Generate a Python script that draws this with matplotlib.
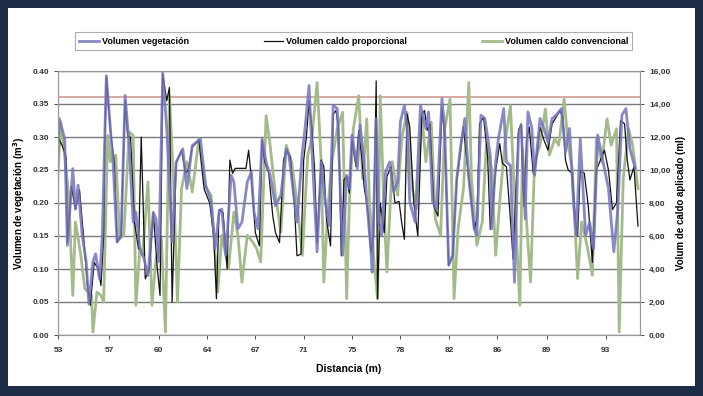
import matplotlib
matplotlib.use('Agg')
import matplotlib.pyplot as plt
from matplotlib.patches import Rectangle

plt.rcParams['font.family'] = ['Liberation Sans', 'DejaVu Sans']
plt.rcParams['font.weight'] = 'bold'

# Volumen vegetacion (m3), left axis
veg_d = [52.75, 53.0, 53.4, 53.6, 54.0, 54.2, 54.4, 54.7, 55.0, 55.2, 55.5, 55.7, 56.0, 56.2,
         56.5, 56.8, 57.0, 57.3, 57.6, 57.9, 58.2, 58.5, 58.7, 59.0, 59.3, 59.6, 60.0, 60.2,
         60.4, 60.7, 61.0, 61.4, 61.7, 62.2, 62.5, 62.9, 63.5, 63.9, 64.3, 64.6, 64.9, 65.1,
         65.4, 65.8, 66.0, 66.3, 66.6, 67.0, 67.3, 67.5, 67.8, 68.1, 68.4, 68.7, 69.1, 69.5,
         69.9, 70.1, 70.4, 70.7, 71.1, 71.3, 71.6, 71.8, 72.2, 72.5, 72.8, 73.1, 73.4, 73.7,
         74.1, 74.4, 74.6, 74.8, 75.2, 75.4, 75.7, 75.9, 76.2, 76.3, 76.6, 76.8, 77.0, 77.3,
         77.6, 77.9, 78.2, 78.4, 78.7, 78.9, 79.1, 79.5, 79.9, 80.3, 80.5, 80.8, 81.1, 81.5,
         81.7, 82.0, 82.3, 82.6, 82.9, 83.2, 83.5, 83.9, 84.1, 84.4, 84.7, 85.1, 85.2, 85.5,
         85.7, 86.1, 86.3, 86.6, 86.9, 87.2, 87.4, 87.7, 87.9, 88.2, 88.4, 88.8, 89.1, 89.4,
         89.7, 90.0, 90.4, 90.7, 91.0, 91.3, 91.5, 91.8, 92.2, 92.5, 92.8, 93.1, 93.5, 93.9,
         94.3, 94.6, 94.9, 95.2, 95.5, 95.9]
veg_v = [0.212, 0.328, 0.297, 0.136, 0.252, 0.191, 0.227, 0.151, 0.111, 0.047, 0.111, 0.123, 0.085, 0.151,
         0.393, 0.313, 0.262, 0.141, 0.151, 0.363, 0.287, 0.171, 0.186, 0.131, 0.116, 0.090, 0.186, 0.176,
         0.111, 0.398, 0.313, 0.141, 0.262, 0.282, 0.222, 0.287, 0.297, 0.227, 0.202, 0.131, 0.186, 0.191,
         0.121, 0.242, 0.232, 0.161, 0.171, 0.232, 0.247, 0.186, 0.161, 0.297, 0.262, 0.242, 0.196, 0.212,
         0.282, 0.272, 0.222, 0.171, 0.277, 0.313, 0.378, 0.287, 0.126, 0.262, 0.202, 0.166, 0.348, 0.343,
         0.121, 0.242, 0.222, 0.303, 0.252, 0.318, 0.262, 0.202, 0.131, 0.095, 0.328, 0.171, 0.151, 0.247,
         0.262, 0.217, 0.232, 0.323, 0.348, 0.313, 0.202, 0.171, 0.348, 0.313, 0.338, 0.202, 0.191, 0.358,
         0.313, 0.106, 0.121, 0.237, 0.287, 0.328, 0.237, 0.161, 0.151, 0.333, 0.328, 0.272, 0.161, 0.262,
         0.297, 0.343, 0.262, 0.257, 0.080, 0.303, 0.318, 0.176, 0.338, 0.313, 0.242, 0.328, 0.313, 0.292,
         0.328, 0.333, 0.343, 0.277, 0.313, 0.202, 0.151, 0.297, 0.151, 0.171, 0.131, 0.303, 0.262, 0.222,
         0.126, 0.191, 0.333, 0.343, 0.282, 0.252]

# Volumen caldo proporcional (ml), right axis
prop_d = [52.9, 53.2, 53.5, 53.6, 53.9, 54.2, 54.5, 54.8, 55.1, 55.3, 55.6, 55.9, 56.1, 56.3,
          56.4, 56.5, 56.8, 57.1, 57.3, 57.6, 57.9, 58.1, 58.3, 58.6, 58.9, 59.1, 59.4, 59.7,
          60.0, 60.3, 60.5, 60.7, 61.0, 61.2, 61.4, 61.7, 62.1, 62.4, 62.6, 62.9, 63.4, 63.8,
          64.2, 64.5, 64.7, 64.9, 65.2, 65.5, 65.7, 65.9, 66.1, 66.9, 67.1, 67.3, 67.6, 67.9,
          68.1, 68.3, 68.6, 68.9, 69.1, 69.4, 69.7, 69.9, 70.2, 70.5, 70.7, 71.0, 71.2, 71.4,
          71.6, 71.8, 72.0, 72.2, 72.5, 72.7, 72.9, 73.2, 73.4, 73.6, 73.8, 74.0, 74.2, 74.4,
          74.6, 74.8, 75.1, 75.3, 75.5, 75.7, 76.0, 76.2, 76.4, 76.6, 76.7, 76.9, 77.2, 77.4,
          77.7, 78.0, 78.3, 78.5, 78.7, 78.9, 79.1, 79.4, 79.7, 80.0, 80.2, 80.4, 80.6, 80.9,
          81.2, 81.5, 81.7, 82.0, 82.3, 82.6, 82.8, 83.1, 83.3, 83.6, 83.9, 84.1, 84.3, 84.6,
          84.9, 85.1, 85.3, 85.5, 85.8, 86.0, 86.3, 86.6, 86.8, 87.0, 87.2, 87.4, 87.6, 87.8,
          88.0, 88.3, 88.5, 88.8, 89.1, 89.4, 89.7, 90.0, 90.3, 90.5, 90.7, 90.9, 91.2, 91.4,
          91.6, 91.8, 92.1, 92.4, 92.7, 93.0, 93.3, 93.6, 93.9, 94.2, 94.5, 94.8, 95.1, 95.3,
          95.5, 95.8, 96.1]
prop_v = [12.0, 11.5, 10.8, 5.6, 9.0, 7.6, 8.8, 6.0, 3.0, 1.8, 4.4, 4.0, 3.0, 6.0,
          12.0, 15.6, 12.4, 10.4, 5.6, 6.0, 14.2, 12.0, 12.0, 6.8, 5.2, 12.0, 3.4, 4.0,
          7.4, 4.0, 2.4, 15.8, 14.2, 15.0, 2.0, 10.4, 11.2, 9.8, 10.0, 11.4, 11.8, 8.8,
          8.0, 6.0, 2.2, 7.6, 7.4, 4.0, 10.6, 9.8, 10.1, 10.1, 11.2, 9.5, 6.2, 5.4,
          11.8, 10.5, 9.8, 7.2, 6.2, 5.6, 10.6, 11.2, 10.8, 8.0, 4.8, 4.9, 10.6, 12.0,
          14.2, 12.6, 10.2, 5.6, 10.6, 10.2, 7.0, 5.4, 13.4, 13.6, 12.6, 4.8, 9.4, 9.6,
          8.6, 11.8, 10.2, 12.4, 11.0, 9.0, 7.4, 5.0, 6.0, 15.4, 2.2, 8.0, 6.2, 9.6,
          10.2, 8.0, 8.1, 6.8, 5.8, 13.4, 12.6, 8.0, 6.0, 13.4, 13.6, 12.4, 12.8, 7.8,
          7.2, 13.8, 12.0, 4.2, 4.8, 9.4, 10.6, 12.6, 11.0, 8.8, 6.4, 7.0, 12.8, 13.2,
          10.8, 6.4, 8.0, 10.0, 11.6, 10.4, 10.2, 7.0, 4.6, 8.6, 12.4, 12.8, 7.8, 11.8,
          12.6, 9.8, 10.4, 12.6, 11.8, 11.2, 12.8, 13.2, 13.6, 13.2, 10.6, 10.0, 9.8, 7.2,
          6.0, 10.0, 9.8, 7.8, 4.4, 10.0, 10.6, 11.2, 10.0, 7.6, 8.0, 13.0, 12.8, 10.6,
          9.4, 10.2, 6.6]

# Volumen caldo convencional (ml), right axis
conv_d = [52.75, 53.1, 53.4, 53.7, 54.0, 54.2, 54.6, 54.9, 55.4, 55.5, 55.8, 56.1, 56.3, 56.6,
          56.8, 57.2, 57.5, 57.8, 58.2, 58.5, 58.7, 59.0, 59.2, 59.6, 59.9, 60.2, 60.6, 60.9,
          61.2, 61.5, 61.8, 62.1, 62.5, 62.9, 63.4, 63.8, 64.3, 64.8, 65.1, 65.6, 66.0, 66.3,
          66.6, 67.0, 67.4, 67.7, 68.0, 68.4, 68.7, 69.1, 69.5, 69.9, 70.3, 70.7, 71.1, 71.5,
          71.8, 72.2, 72.5, 72.7, 73.0, 73.3, 73.7, 74.1, 74.4, 74.6, 74.9, 75.3, 75.6, 75.9,
          76.1, 76.4, 76.7, 76.9, 77.2, 77.4, 77.8, 78.2, 78.5, 78.9, 79.3, 79.6, 80.0, 80.3,
          80.7, 81.0, 81.4, 81.7, 82.1, 82.4, 82.7, 83.1, 83.5, 83.7, 84.1, 84.5, 84.8, 85.2,
          85.5, 85.8, 86.2, 86.6, 86.9, 87.3, 87.5, 87.8, 88.1, 88.4, 88.8, 89.2, 89.5, 89.9,
          90.2, 90.6, 90.9, 91.2, 91.6, 91.9, 92.3, 92.7, 93.0, 93.4, 93.8, 94.1, 94.5, 94.7,
          95.0, 95.4, 95.7, 96.1]
conv_v = [7.25, 12.9, 10.9, 8.47, 2.4, 6.85, 4.83, 2.8, 2.4, 0.18, 2.6, 2.4, 2.0, 12.1,
          10.5, 10.9, 5.84, 6.04, 12.3, 12.1, 1.8, 5.23, 4.83, 9.27, 1.8, 4.62, 5.84, 0.18,
          14.5, 9.47, 2.0, 8.87, 10.5, 8.67, 11.9, 9.07, 8.47, 2.6, 6.04, 4.02, 7.45, 6.04,
          3.21, 6.04, 5.64, 5.23, 4.42, 13.3, 11.5, 8.47, 6.24, 11.5, 10.5, 8.06, 4.83, 10.9,
          11.9, 15.3, 10.5, 3.21, 7.65, 10.5, 12.5, 13.5, 2.2, 8.06, 12.5, 14.5, 9.47, 13.1,
          8.06, 4.83, 2.2, 14.5, 7.25, 3.82, 10.5, 8.47, 11.9, 13.5, 8.87, 7.65, 13.3, 10.5,
          12.9, 7.05, 6.04, 12.5, 14.3, 2.2, 6.44, 8.87, 15.3, 9.47, 5.44, 6.85, 11.5, 10.1,
          4.83, 8.06, 11.7, 13.9, 8.47, 1.8, 11.3, 6.85, 3.21, 10.5, 11.5, 13.7, 10.9, 11.9,
          11.5, 14.3, 11.5, 10.1, 3.42, 6.85, 5.44, 3.62, 11.9, 10.5, 13.1, 11.5, 12.5, 0.18,
          9.47, 12.5, 11.5, 8.87]

# category-axis tick labels and where they fall
tick_pos = [52.9, 56.7, 60.4, 64.0, 67.6, 71.2, 74.8, 78.4, 82.05, 85.6, 89.3, 93.7]
tick_lab = ['53', '57', '60', '64', '67', '71', '75', '78', '82', '86', '89', '93']
ref_line = 14.45  # pinkish horizontal reference (ml)

fig = plt.figure(figsize=(7.03, 3.96), dpi=100)
fig.patch.set_facecolor('#1d2b45')
fig.patches.append(Rectangle((8 / 703, 10 / 396), 687 / 703, 378 / 396, transform=fig.transFigure,
                             facecolor='white', edgecolor='none', zorder=-10))

ax = fig.add_axes([58 / 703, 1 - 335 / 396, 582 / 703, 264 / 396])
ax2 = ax.twinx()
ax.set_zorder(ax2.get_zorder() + 1)
ax.patch.set_visible(False)
ax2.patch.set_facecolor('white')

ax.set_xlim(52.95, 96.25)
ax.set_ylim(0, 0.40)
ax2.set_ylim(0, 16)
ax.set_yticks([0, 0.05, 0.10, 0.15, 0.20, 0.25, 0.30, 0.35, 0.40])
ax.set_yticklabels(['%.2f' % t for t in ax.get_yticks()])
ax2.set_yticks(range(0, 17, 2))
ax2.set_yticklabels([('%.2f' % t).replace('.', ',') for t in range(0, 17, 2)])
for t in ax.get_yticks():
    ax2.axhline(t * 40, color='#7a7a7a', lw=1.0, zorder=0)
ax2.axhline(ref_line, color='#d4a49c', lw=1.3, zorder=0.5)

l2 = ax2.plot(prop_d, prop_v, color='#111111', lw=0.9, label='Volumen caldo proporcional', zorder=3)
l3 = ax2.plot(conv_d, conv_v, color='#a3bb8a', lw=2.0, label='Volumen caldo convencional', zorder=2)
l1 = ax.plot(veg_d, veg_v, color='#7474bf', lw=2.0, alpha=0.85, label='Volumen vegetación')

ax.set_xticks(tick_pos)
ax.set_xticklabels(tick_lab)
for a in (ax, ax2):
    a.tick_params(labelsize=6, colors='#333333', length=3, width=0.6)
    for s in a.spines.values():
        s.set_color('#999999')
        s.set_linewidth(0.8)
ax.tick_params(axis='x', pad=6)

ax.set_xlabel('Distancia (m)', fontsize=7.5, fontweight='bold', labelpad=7)
ax.set_ylabel('Volumen de vegetación (m$^3$)', fontsize=7, fontweight='bold', labelpad=4)
ax2.set_ylabel('Volum de caldo aplicado (ml)', fontsize=7, fontweight='bold', labelpad=4)

leg = fig.legend(handles=[l1[0], l2[0], l3[0]], loc='lower left',
                 bbox_to_anchor=(70 / 703, 1 - 55 / 396, 567 / 703, 21 / 396), mode='expand',
                 ncol=3, fontsize=6.5, frameon=True, fancybox=False, handlelength=2.2,
                 borderpad=0.5, handletextpad=0.3)
leg.get_frame().set_edgecolor('#999999')
leg.get_frame().set_linewidth(0.8)

fig.savefig('out.png', dpi=100, facecolor=fig.get_facecolor())
